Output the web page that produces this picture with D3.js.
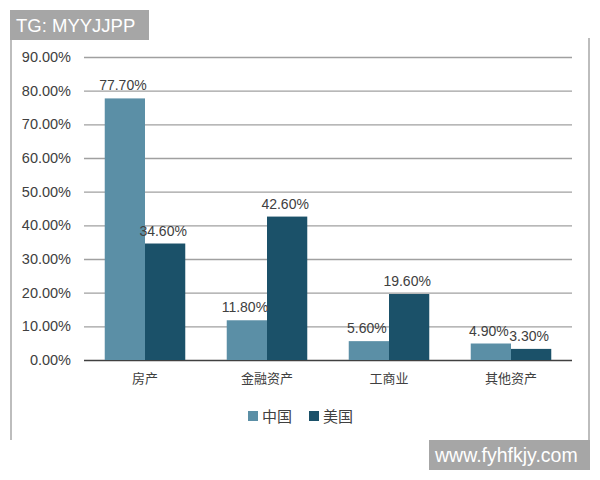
<!DOCTYPE html>
<html>
<head>
<meta charset="utf-8">
<script src="https://cdn.jsdelivr.net/npm/d3@7"></script>
<style>
  body { margin: 0; background: #fff; }
  text { font-family: "Liberation Sans", Arial, "Noto Sans CJK SC", sans-serif; }
</style>
</head>
<body>
<div id="chart"></div>
<script>
// data
var categories = ["房产", "金融资产", "工商业", "其他资产"];
var series = ["中国", "美国"];
var chinaValues = [77.7, 11.8, 5.6, 4.9];
var usaValues = [34.6, 42.6, 19.6, 3.3];
var yTicks = [0, 10, 20, 30, 40, 50, 60, 70, 80, 90];

var colors = {"中国": "#5b8fa6", "美国": "#1b5169"};

var svgWidth = 600, svgHeight = 480;
var margin = {top: 57, left: 84, right: 28, bottom: 120};
var width = svgWidth - margin.left - margin.right;
var height = svgHeight - margin.top - margin.bottom;

var svg = d3.select("#chart").append("svg")
    .attr("width", svgWidth)
    .attr("height", svgHeight);

// outer frame (left + right borders)
svg.append("line").attr("x1", 11).attr("x2", 11).attr("y1", 38).attr("y2", 440)
    .attr("stroke", "#bdbdbd").attr("stroke-width", 2);
svg.append("line").attr("x1", 589).attr("x2", 589).attr("y1", 38).attr("y2", 440)
    .attr("stroke", "#bdbdbd").attr("stroke-width", 2);

var g = svg.append("g").attr("transform", `translate(${margin.left}, ${margin.top})`);

var x0 = d3.scaleBand().domain(categories).range([0, width]).paddingInner(0.34).paddingOuter(0.17);
var x1 = d3.scaleBand().domain(series).range([0, x0.bandwidth()]);
var y = d3.scaleLinear().domain([0, 90]).range([height, 0]);

// gridlines
g.append("g")
    .call(d3.axisLeft(y).tickValues(yTicks).tickSize(-width).tickFormat(""))
    .call(a => a.select(".domain").remove())
    .call(a => a.selectAll("line").attr("stroke", d => d === 0 ? "#404040" : "#a0a0a0").attr("stroke-width", 1.3));

// y labels
g.append("g")
    .call(d3.axisLeft(y).tickValues(yTicks).tickSize(0).tickPadding(13).tickFormat(d => d.toFixed(2) + "%"))
    .call(a => a.select(".domain").remove())
    .call(a => a.selectAll("text").attr("fill", "#404040").style("font-size", "14.5px"));

var rows = categories.map((c, i) => ({cat: c, vals: [
    {s: "中国", v: chinaValues[i]}, {s: "美国", v: usaValues[i]}]}));

var groups = g.selectAll(".grp").data(rows).enter().append("g")
    .attr("transform", d => `translate(${x0(d.cat)},0)`);

groups.selectAll("rect").data(d => d.vals).enter().append("rect")
    .attr("x", d => x1(d.s))
    .attr("y", d => y(d.v))
    .attr("width", x1.bandwidth())
    .attr("height", d => height - y(d.v))
    .attr("fill", d => colors[d.s]);

groups.selectAll(".lbl").data(d => d.vals).enter().append("text")
    .attr("x", d => x1(d.s) + x1.bandwidth() / 2 - 2)
    .attr("y", d => y(d.v) - 8)
    .attr("text-anchor", "middle")
    .attr("fill", "#404040")
    .style("font-size", "14px")
    .text(d => d.v.toFixed(2) + "%");

// x labels
g.append("g").attr("transform", `translate(0, ${height})`)
    .call(d3.axisBottom(x0).tickSize(0).tickPadding(14))
    .call(a => a.select(".domain").remove())
    .call(a => a.selectAll("text").attr("fill", "#404040").style("font-size", "13px"));

// legend
var legend = svg.append("g").attr("transform", "translate(248, 411)");
series.forEach(function(s, i) {
    var lg = legend.append("g").attr("transform", `translate(${i * 61}, 0)`);
    lg.append("rect").attr("width", 10).attr("height", 10).attr("fill", colors[s]);
    lg.append("text").attr("x", 14).attr("y", 11).attr("fill", "#404040")
        .style("font-size", "15px").text(s);
});

// watermarks
svg.append("rect").attr("x", 10).attr("y", 10).attr("width", 139).attr("height", 30).attr("fill", "#a6a6a6");
svg.append("text").attr("x", 16).attr("y", 32).attr("fill", "#fff").style("font-size", "18.5px").text("TG: MYYJJPP");
svg.append("rect").attr("x", 429).attr("y", 440).attr("width", 161).attr("height", 30).attr("fill", "#a6a6a6");
svg.append("text").attr("x", 435).attr("y", 462).attr("fill", "#fff").style("font-size", "19.5px").text("www.fyhfkjy.com");
</script>
</body>
</html>
